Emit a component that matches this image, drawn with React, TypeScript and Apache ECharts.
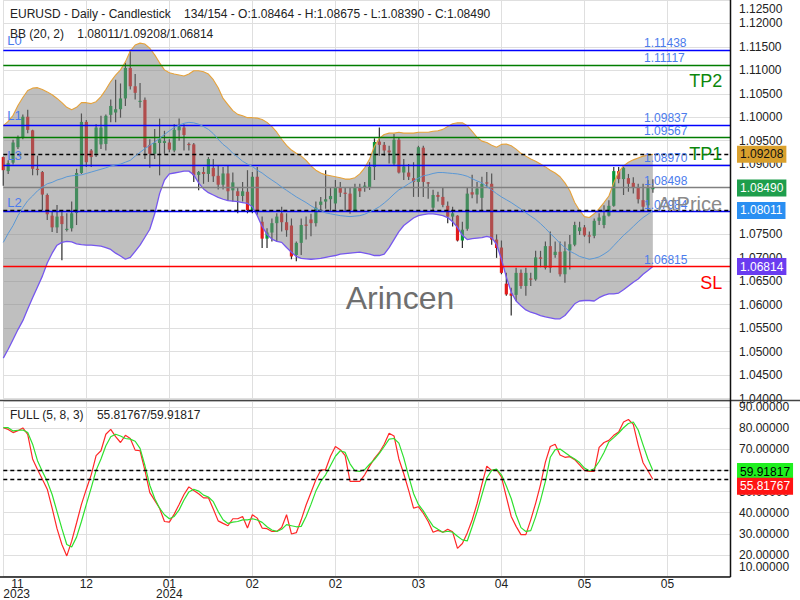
import React, { useEffect, useRef } from 'react';
import * as echarts from 'echarts';

// ---------- DATA ----------
const opens = [
  1.0915, 1.0885, 1.0903, 1.0936, 1.0957, 1.1001, 1.0972, 1.0890, 1.0883, 1.0834,
  1.0790, 1.0765, 1.0789, 1.0760, 1.0763, 1.0796, 1.0881, 1.0990, 1.0929, 1.0922,
  1.0942, 1.0943, 1.1005, 1.1010, 1.1017, 1.1040, 1.1105, 1.1066, 1.1034, 1.1037,
  1.0941, 1.0922, 1.0945, 1.0945, 1.0946, 1.0929, 1.0972, 1.0978, 1.0943, 1.0942,
  1.0877, 1.0883, 1.0879, 1.0892, 1.0875, 1.0856, 1.0880, 1.0844, 1.0842, 1.0832,
  1.0841, 1.0802, 1.0873, 1.0777, 1.0741, 1.0754, 1.0774, 1.0795, 1.0776, 1.0769,
  1.0706, 1.0732, 1.0771, 1.0782, 1.0774, 1.0813, 1.0820, 1.0825, 1.0816, 1.0849,
  1.0839, 1.0837, 1.0802, 1.0851, 1.0853, 1.0851, 1.0894, 1.0948, 1.0941, 1.0929,
  1.0901, 1.0952, 1.0882, 1.0882, 1.0870, 1.0862, 1.0935, 1.0861, 1.0807, 1.0834,
  1.0830, 1.0811, 1.0788, 1.0790, 1.0737, 1.0762, 1.0840, 1.0835, 1.0828, 1.0861,
  1.0858, 1.0739, 1.0722, 1.0645, 1.0624, 1.0621, 1.0668, 1.0640, 1.0656, 1.0654,
  1.0701, 1.0679, 1.0725, 1.0706, 1.0713, 1.0665, 1.0716, 1.0728, 1.0757, 1.0765,
  1.0748, 1.0747, 1.0779, 1.0770, 1.0790, 1.0811, 1.0885, 1.0868, 1.0870, 1.0860,
  1.0851, 1.0823, 1.0812, 1.08464,
];
const closes = [
  1.0887, 1.0902, 1.0946, 1.0957, 1.1001, 1.0973, 1.0890, 1.0888, 1.0835, 1.0793,
  1.0765, 1.0788, 1.0772, 1.0762, 1.0795, 1.0881, 1.0990, 1.0904, 1.0915, 1.0978,
  1.0978, 1.1003, 1.1024, 1.1017, 1.1040, 1.1105, 1.1066, 1.1052, 1.1035, 1.0936,
  1.0922, 1.0945, 1.0953, 1.0949, 1.0931, 1.0973, 1.0980, 1.0962, 1.0941, 1.0876,
  1.0883, 1.0879, 1.0911, 1.0874, 1.0856, 1.0880, 1.0842, 1.0861, 1.0832, 1.0842,
  1.0802, 1.0873, 1.0802, 1.0741, 1.0754, 1.0774, 1.0788, 1.0776, 1.0759, 1.0703,
  1.0732, 1.0770, 1.0770, 1.0774, 1.0807, 1.0820, 1.0825, 1.0832, 1.0849, 1.0839,
  1.0838, 1.0802, 1.0851, 1.0842, 1.0854, 1.0894, 1.0947, 1.0941, 1.0929, 1.0925,
  1.0952, 1.0882, 1.0895, 1.0873, 1.0862, 1.0936, 1.0862, 1.0860, 1.0834, 1.0830,
  1.0813, 1.0788, 1.0795, 1.0737, 1.0760, 1.0837, 1.0835, 1.0848, 1.0858, 1.0859,
  1.0739, 1.0721, 1.0668, 1.0622, 1.0619, 1.0668, 1.0640, 1.0668, 1.0655, 1.0701,
  1.0698, 1.0725, 1.0679, 1.0713, 1.0665, 1.0714, 1.0729, 1.0770, 1.0765, 1.0748,
  1.0747, 1.0779, 1.0786, 1.0790, 1.0811, 1.0885, 1.0868, 1.0892, 1.0858, 1.0851,
  1.0825, 1.0809, 1.0849, 1.08490,
];
const lows = [
  1.0854, 1.0879, 1.0899, 1.0932, 1.0953, 1.0966, 1.0876, 1.0876, 1.0802, 1.0781,
  1.0755, 1.0753, 1.0695, 1.0756, 1.0756, 1.0770, 1.0879, 1.0894, 1.0894, 1.0915,
  1.0932, 1.0929, 1.0989, 1.0989, 1.0999, 1.1024, 1.1059, 1.1038, 1.1020, 1.0911,
  1.0892, 1.0911, 1.0876, 1.0922, 1.0925, 1.0925, 1.0950, 1.0929, 1.0929, 1.0862,
  1.0844, 1.0858, 1.0862, 1.0862, 1.0846, 1.0846, 1.0822, 1.0820, 1.0795, 1.0820,
  1.0795, 1.0795, 1.0792, 1.0721, 1.0721, 1.0735, 1.0735, 1.0756, 1.0745, 1.0697,
  1.0693, 1.0706, 1.0739, 1.0746, 1.0767, 1.0799, 1.0805, 1.0799, 1.0803, 1.0830,
  1.0799, 1.0794, 1.0799, 1.0830, 1.0841, 1.0845, 1.0866, 1.0918, 1.0918, 1.0901,
  1.0897, 1.0880, 1.0866, 1.0866, 1.0830, 1.0830, 1.0830, 1.0826, 1.0799, 1.0820,
  1.0808, 1.0774, 1.0767, 1.0735, 1.0721, 1.0758, 1.0827, 1.0816, 1.0798, 1.0849,
  1.0728, 1.0700, 1.0665, 1.0619, 1.0577, 1.0608, 1.0634, 1.0619, 1.0640, 1.0651,
  1.0680, 1.0675, 1.0668, 1.0700, 1.0660, 1.0647, 1.0675, 1.0725, 1.0749, 1.0745,
  1.0731, 1.0742, 1.0770, 1.0763, 1.0788, 1.0809, 1.0859, 1.0834, 1.0841, 1.0837,
  1.0816, 1.0802, 1.0802, 1.08390,
];
const highs = [
  1.0916, 1.0908, 1.0952, 1.0961, 1.1006, 1.1016, 1.0973, 1.0918, 1.0885, 1.0837,
  1.0799, 1.0813, 1.0799, 1.0795, 1.0820, 1.0890, 1.1008, 1.0994, 1.0932, 1.0985,
  1.1003, 1.1006, 1.1038, 1.1080, 1.1072, 1.1116, 1.1144, 1.1092, 1.1073, 1.1042,
  1.0953, 1.0975, 1.0997, 1.0971, 1.0953, 1.0985, 1.0997, 1.0985, 1.0946, 1.0945,
  1.0885, 1.0894, 1.0915, 1.0911, 1.0897, 1.0894, 1.0897, 1.0882, 1.0849, 1.0862,
  1.0887, 1.0883, 1.0894, 1.0788, 1.0763, 1.0784, 1.0795, 1.0809, 1.0795, 1.0784,
  1.0735, 1.0784, 1.0788, 1.0794, 1.0820, 1.0830, 1.0887, 1.0851, 1.0866, 1.0862,
  1.0851, 1.0851, 1.0858, 1.0858, 1.0862, 1.0904, 1.0955, 1.0978, 1.0947, 1.0939,
  1.0964, 1.0957, 1.0911, 1.0900, 1.0904, 1.0939, 1.0939, 1.0862, 1.0845, 1.0841,
  1.0851, 1.0820, 1.0809, 1.0791, 1.0777, 1.0851, 1.0877, 1.0862, 1.0873, 1.0883,
  1.0880, 1.0750, 1.0737, 1.0668, 1.0636, 1.0679, 1.0675, 1.0679, 1.0668, 1.0715,
  1.0715, 1.0735, 1.0756, 1.0735, 1.0735, 1.0735, 1.0749, 1.0777, 1.0777, 1.0770,
  1.0756, 1.0784, 1.0795, 1.0812, 1.0823, 1.0894, 1.0894, 1.0894, 1.0879, 1.0872,
  1.0858, 1.0858, 1.0866, 1.08675,
];
const bbUpper = [
  1.0982, 1.0991, 1.1004, 1.1025, 1.1042, 1.1057, 1.1062, 1.1063, 1.1059, 1.1054,
  1.1048, 1.1040, 1.1031, 1.1021, 1.1016, 1.1021, 1.1031, 1.1031, 1.1029, 1.1033,
  1.1044, 1.1059, 1.1076, 1.1090, 1.1101, 1.1118, 1.1141, 1.1154, 1.1158, 1.1156,
  1.1147, 1.1133, 1.1116, 1.1101, 1.1095, 1.1092, 1.1090, 1.1088, 1.1092, 1.1099,
  1.1099, 1.1097, 1.1092, 1.1080, 1.1063, 1.1040, 1.1027, 1.1014, 1.1006, 1.1003,
  1.0999, 1.0999, 1.0998, 1.0995, 1.0989, 1.0980, 1.0968, 1.0953, 1.0940, 1.0930,
  1.0923, 1.0917, 1.0908, 1.0896, 1.0887, 1.0881, 1.0877, 1.0875, 1.0873, 1.0871,
  1.0868, 1.0868, 1.0871, 1.0879, 1.0892, 1.0911, 1.0938, 1.0955, 1.0963, 1.0966,
  1.0966, 1.0968, 1.0966, 1.0966, 1.0966, 1.0968, 1.0968, 1.0968, 1.0970, 1.0971,
  1.0974, 1.0980, 1.0986, 1.0988, 1.0988, 1.0982, 1.0970, 1.0957, 1.0949, 1.0946,
  1.0940, 1.0936, 1.0942, 1.0943, 1.0939, 1.0932, 1.0923, 1.0917, 1.0911, 1.0906,
  1.0900, 1.0894, 1.0887, 1.0881, 1.0873, 1.0860, 1.0843, 1.0818, 1.0801, 1.0788,
  1.0786, 1.0794, 1.0805, 1.0818, 1.0832, 1.0860, 1.0883, 1.0896, 1.0904, 1.0909,
  1.0913, 1.0917, 1.0919, 1.09208,
];
const bbMiddle = [
  1.0733, 1.0752, 1.0769, 1.0790, 1.0807, 1.0822, 1.0832, 1.0843, 1.0851, 1.0858,
  1.0861, 1.0866, 1.0869, 1.0873, 1.0875, 1.0876, 1.0877, 1.0880, 1.0883, 1.0886,
  1.0889, 1.0892, 1.0896, 1.0898, 1.0900, 1.0904, 1.0908, 1.0917, 1.0925, 1.0933,
  1.0940, 1.0947, 1.0955, 1.0963, 1.0971, 1.0978, 1.0983, 1.0987, 1.0989, 1.0988,
  1.0985, 1.0980, 1.0974, 1.0965, 1.0953, 1.0942, 1.0934, 1.0923, 1.0915, 1.0906,
  1.0900, 1.0895, 1.0887, 1.0881, 1.0873, 1.0866, 1.0859, 1.0851, 1.0844, 1.0837,
  1.0830, 1.0824, 1.0818, 1.0811, 1.0805, 1.0801, 1.0796, 1.0794, 1.0792, 1.0790,
  1.0789, 1.0788, 1.0789, 1.0790, 1.0793, 1.0798, 1.0803, 1.0809, 1.0817, 1.0826,
  1.0836, 1.0845, 1.0851, 1.0858, 1.0864, 1.0870, 1.0875, 1.0877, 1.0880, 1.0882,
  1.0882, 1.0881, 1.0880, 1.0879, 1.0877, 1.0874, 1.0869, 1.0864, 1.0860, 1.0852,
  1.0845, 1.0837, 1.0830, 1.0824, 1.0818, 1.0811, 1.0804, 1.0796, 1.0789, 1.0782,
  1.0773, 1.0763, 1.0752, 1.0742, 1.0731, 1.0722, 1.0714, 1.0709, 1.0703, 1.0700,
  1.0697, 1.0699, 1.0702, 1.0708, 1.0715, 1.0726, 1.0737, 1.0748, 1.0757, 1.0767,
  1.0777, 1.0786, 1.0793, 1.08011,
];
const bbLower = [
  1.0486, 1.0505, 1.0526, 1.0547, 1.0566, 1.0591, 1.0615, 1.0638, 1.0661, 1.0689,
  1.0710, 1.0727, 1.0733, 1.0735, 1.0734, 1.0730, 1.0728, 1.0727, 1.0727, 1.0726,
  1.0725, 1.0722, 1.0718, 1.0710, 1.0704, 1.0697, 1.0701, 1.0714, 1.0727, 1.0744,
  1.0761, 1.0794, 1.0837, 1.0866, 1.0879, 1.0881, 1.0883, 1.0885, 1.0885, 1.0877,
  1.0860, 1.0847, 1.0839, 1.0834, 1.0829, 1.0825, 1.0822, 1.0821, 1.0820, 1.0818,
  1.0816, 1.0809, 1.0790, 1.0767, 1.0750, 1.0740, 1.0735, 1.0733, 1.0722, 1.0712,
  1.0703, 1.0699, 1.0698, 1.0697, 1.0698, 1.0699, 1.0701, 1.0703, 1.0705, 1.0708,
  1.0709, 1.0710, 1.0711, 1.0712, 1.0710, 1.0708, 1.0705, 1.0705, 1.0708, 1.0722,
  1.0739, 1.0756, 1.0769, 1.0777, 1.0785, 1.0790, 1.0792, 1.0794, 1.0794, 1.0792,
  1.0790, 1.0786, 1.0777, 1.0765, 1.0748, 1.0739, 1.0741, 1.0742, 1.0743, 1.0746,
  1.0743, 1.0729, 1.0697, 1.0659, 1.0627, 1.0608, 1.0598, 1.0589, 1.0584, 1.0581,
  1.0577, 1.0574, 1.0572, 1.0570, 1.0570, 1.0577, 1.0589, 1.0602, 1.0608, 1.0609,
  1.0609, 1.0608, 1.0615, 1.0620, 1.0623, 1.0623, 1.0625, 1.0632, 1.0640, 1.0648,
  1.0655, 1.0665, 1.0673, 1.06814,
];
const stochK = [
  80.2, 79.4, 77.9, 78.8, 80.1, 77.1, 65.4, 60.4, 55.8, 51.1,
  42.1, 32.4, 24.9, 19.5, 26.5, 35.1, 43.9, 51.1, 57.9, 67.0,
  69.3, 77.1, 79.4, 76.0, 73.2, 76.6, 75.1, 69.6, 69.3, 60.0,
  49.5, 45.8, 42.1, 35.8, 35.5, 39.3, 43.9, 48.6, 52.2, 50.5,
  48.9, 47.0, 47.0, 41.7, 36.1, 34.9, 33.8, 37.1, 37.1, 38.2,
  32.7, 39.0, 37.4, 32.7, 32.4, 31.1, 31.1, 33.0, 39.0, 29.9,
  30.5, 36.6, 43.6, 49.5, 55.6, 60.1, 60.4, 66.7, 71.3, 69.8,
  67.0, 54.8, 54.8, 54.8, 57.9, 62.0, 65.7, 68.5, 72.4, 77.6,
  76.3, 65.4, 58.4, 50.5, 42.1, 42.8, 39.7, 35.8, 30.7, 31.6,
  30.7, 32.1, 30.9, 23.1, 25.4, 30.4, 36.5, 44.2, 53.4, 62.0,
  60.0, 60.3, 56.9, 47.5, 38.2, 33.5, 29.6, 29.6, 36.6, 44.4,
  53.3, 63.9, 71.3, 72.4, 67.3, 66.2, 66.5, 65.1, 62.6, 60.0,
  59.5, 59.5, 70.9, 73.2, 74.2, 76.6, 78.2, 82.9, 84.1, 81.8,
  72.0, 63.6, 59.8, 55.81767,
];
const stochD = [
  80.2, 80.2, 78.7, 79.0, 79.1, 77.9, 72.4, 64.6, 59.5, 54.8,
  48.6, 40.5, 32.4, 24.9, 23.7, 28.4, 35.8, 43.9, 51.7, 60.0,
  65.4, 71.7, 75.9, 77.1, 76.3, 75.1, 74.8, 73.8, 70.4, 62.3,
  53.0, 46.7, 42.1, 39.0, 37.1, 38.2, 41.3, 46.0, 49.8, 51.1,
  50.2, 48.3, 47.4, 45.2, 40.5, 36.6, 34.9, 35.5, 35.8, 36.6,
  36.6, 37.1, 36.5, 35.4, 33.3, 31.8, 31.1, 32.1, 34.3, 33.8,
  33.3, 33.5, 38.2, 43.9, 50.2, 54.8, 57.9, 62.3, 66.7, 69.3,
  68.5, 63.1, 59.8, 59.5, 60.4, 62.9, 65.1, 68.1, 71.3, 74.8,
  75.1, 72.9, 65.9, 57.3, 49.1, 43.9, 40.8, 37.1, 33.6, 32.1,
  30.7, 31.2, 30.7, 28.8, 27.1, 26.6, 33.3, 40.4, 48.4, 56.4,
  60.0, 60.6, 57.9, 52.6, 46.7, 38.9, 32.9, 31.1, 31.5, 38.0,
  45.8, 54.8, 66.2, 69.8, 70.1, 68.5, 66.8, 65.4, 63.7, 61.1,
  59.8, 60.8, 64.2, 68.5, 73.5, 75.5, 77.7, 80.2, 82.2, 82.9,
  79.1, 72.1, 65.4, 59.91817,
];
const levelValues = [1.11438, 1.11117, 1.09837, 1.09567, 1.0897, 1.08498, 1.07984, 1.06815];
const levelNames = ['L0', 'TP2', 'L1', 'TP1', 'L3', 'AtPrice', 'L2', 'SL'];
const bbLast = [1.08011, 1.09208, 1.06814]; // middle / upper / lower
const lastClose = 1.0849;
const stochLast = [55.81767, 59.91817]; // %K / %D
const xTickLabels = ['11\n2023', '12', '01\n2024', '02', '02', '03', '04', '05', '05'];
const X_STEP = 17;
const X_MAX = 148.8;

const FONT = "'Liberation Sans', Arial, Helvetica, sans-serif";

export default function App() {
  const ref = useRef<HTMLDivElement>(null);
  useEffect(() => {
    document.body.style.margin = '0';
    const chart = echarts.init(ref.current!, null, { renderer: 'svg' });

    const candleData = opens.map((o, i) => [i, o, closes[i], lows[i], highs[i]]);
    const pairs = (arr: number[]) => arr.map((v, i) => [i, v]);
    const bandData = bbUpper.map((u, i) => [i, u, bbLower[i]]);

    const levelColor = (n: string) =>
      n === 'SL' ? '#ff0000' : n === 'AtPrice' ? '#808080' : n.startsWith('TP') ? '#007d00' : '#0000ff';
    const bigColor = (n: string) =>
      n === 'SL' ? '#ff0000' : n === 'AtPrice' ? '#8a8a8a' : '#0c870c';

    const tag = (v: number, bg: string, fg: string, dashed: boolean, dy = 0) => ({
      yAxis: v,
      lineStyle: dashed
        ? { color: '#000', width: 1.4, type: [4, 3], opacity: 1 }
        : { color: 'rgba(0,0,0,0)', width: 1, type: 'solid', opacity: 1 },
      label: {
        show: true,
        position: 'end',
        distance: 7,
        offset: [0, dy],
        formatter: v.toFixed(5),
        backgroundColor: bg,
        color: fg,
        padding: [3, 3, 2, 3],
        fontSize: 12,
        fontFamily: FONT,
      },
    });

    const mainMarkLines = [
      ...levelValues.map((v, k) => ({
        yAxis: v,
        lineStyle: { color: levelColor(levelNames[k]), width: 1.3, type: 'solid' },
        label: { show: false },
      })),
      tag(bbLast[1], '#d9a02d', '#111', true),
      tag(bbLast[0], '#2a8ff2', '#fff', true),
      tag(lastClose, '#1e9e4c', '#fff', false),
      tag(bbLast[2], '#6a3cf0', '#fff', false),
    ];

    const mainMarkPoints = [
      ...levelValues.map((v) => ({
        coord: [131.2, v],
        label: {
          show: true,
          position: [0, -1],
          align: 'left',
          verticalAlign: 'bottom',
          formatter: v.toFixed(5),
          color: '#4b7bec',
          fontSize: 12,
          fontFamily: FONT,
        },
      })),
      ...levelNames.map((n, k) =>
        n.startsWith('L')
          ? {
              coord: [0.8, levelValues[k]],
              label: {
                show: true,
                position: [0, -3],
                align: 'left',
                verticalAlign: 'bottom',
                formatter: n,
                color: '#4b7bec',
                fontSize: 13,
                fontFamily: FONT,
              },
            }
          : {
              coord: [147.2, levelValues[k]],
              label: {
                show: true,
                position: [0, 16],
                align: 'right',
                verticalAlign: 'middle',
                formatter: n,
                color: bigColor(n),
                fontSize: n === 'AtPrice' ? 20 : 18,
                fontFamily: FONT,
              },
            }
      ),
    ];

    const gridLine = { show: true, lineStyle: { color: '#dfdfdf', width: 1 } };

    const option: any = {
      animation: false,
      backgroundColor: '#ffffff',
      textStyle: { fontFamily: FONT },
      grid: [
        { left: 3.3, right: 70, top: -3.5, height: 402 },
        { left: 3.3, right: 70, top: 401, height: 175.8 },
      ],
      xAxis: [
        {
          type: 'value', gridIndex: 0, min: 0, max: X_MAX, interval: X_STEP,
          axisLine: { show: false }, axisTick: { show: false }, axisLabel: { show: false },
          splitLine: gridLine,
        },
        {
          type: 'value', gridIndex: 1, min: 0, max: X_MAX, interval: X_STEP,
          axisLine: { show: false }, axisTick: { show: false },
          axisLabel: {
            show: true,
            color: '#222',
            fontSize: 12,
            fontFamily: FONT,
            margin: 3,
            lineHeight: 10,
            alignMinLabel: 'left',
            showMaxLabel: false,
            formatter: (v: number) => {
              const k = Math.round(v / X_STEP);
              const s = xTickLabels[k];
              if (s === undefined || Math.abs(v - k * X_STEP) > 0.01) return '';
              if (k === 0) return '{m|11}\n{y|2023}';
              return s;
            },
            rich: {
              m: { padding: [0, 0, 0, 8], fontSize: 12, lineHeight: 10, color: '#222', fontFamily: FONT },
              y: { fontSize: 12, lineHeight: 10, color: '#222', fontFamily: FONT },
            },
          },
          splitLine: gridLine,
        },
      ],
      yAxis: [
        {
          type: 'value', gridIndex: 0, position: 'right', min: 1.04, max: 1.125, interval: 0.005,
          axisLine: { show: false }, axisTick: { show: false },
          axisLabel: {
            color: '#222', fontSize: 12, fontFamily: FONT, margin: 9,
            formatter: (v: number) => (Math.abs(v - 1.125) < 1e-7 ? '{t|1.12500}' : v.toFixed(5)),
            rich: { t: { padding: [17, 0, 0, 0], fontSize: 12, color: '#222', fontFamily: FONT } },
          },
          splitLine: gridLine,
        },
        {
          type: 'value', gridIndex: 1, position: 'right', min: 10, max: 92.85, interval: 10,
          axisLine: { show: false }, axisTick: { show: false },
          axisLabel: {
            color: '#222', fontSize: 12, fontFamily: FONT, margin: 9, showMaxLabel: false,
            formatter: (v: number) => (Math.abs(v - 10) < 1e-7 ? '{b|10.00000}' : v.toFixed(5)),
            rich: { b: { padding: [0, 0, 18, 0], fontSize: 12, color: '#222', fontFamily: FONT } },
          },
          splitLine: gridLine,
        },
      ],
      series: [
        {
          name: 'EURUSD',
          type: 'custom',
          xAxisIndex: 0,
          yAxisIndex: 0,
          z: 2,
          clip: false,
          dimensions: ['i', 'open', 'close', 'low', 'high'],
          encode: { x: 0, y: [1, 2, 3, 4] },
          data: candleData,
          renderItem: (params: any, api: any) => {
            const x = api.value(0);
            const o = api.value(1);
            const c = api.value(2);
            const l = api.value(3);
            const h = api.value(4);
            const top = api.coord([x, Math.max(o, c)]);
            const bot = api.coord([x, Math.min(o, c)]);
            const hi = api.coord([x, h]);
            const lo = api.coord([x, l]);
            const w = 3.2;
            const up = c >= o;
            return {
              type: 'group',
              children: [
                {
                  type: 'line',
                  shape: { x1: hi[0], y1: hi[1], x2: lo[0], y2: lo[1] },
                  style: { stroke: '#2a2a2a', lineWidth: 1.2 },
                },
                {
                  type: 'rect',
                  shape: { x: top[0] - w / 2, y: top[1], width: w, height: Math.max(bot[1] - top[1], 1.2) },
                  style: { fill: up ? '#07993a' : '#e21a1a' },
                },
              ],
            };
          },
        },
        {
          name: 'BB band',
          type: 'custom',
          xAxisIndex: 0,
          yAxisIndex: 0,
          z: 3,
          silent: true,
          dimensions: ['i', 'upper', 'lower'],
          encode: { x: 0, y: [1, 2] },
          data: bandData,
          renderItem: (params: any, api: any) => {
            if (params.dataIndex !== 0) return null;
            const pts: number[][] = [];
            for (let i = 0; i < bandData.length; i++) pts.push(api.coord([bandData[i][0], bandData[i][1]]));
            for (let i = bandData.length - 1; i >= 0; i--) pts.push(api.coord([bandData[i][0], bandData[i][2]]));
            return {
              type: 'polygon',
              shape: { points: pts },
              style: { fill: 'rgba(128,128,128,0.5)' },
            };
          },
        },
        {
          name: 'BB upper', type: 'line', xAxisIndex: 0, yAxisIndex: 0, z: 4, silent: true,
          symbol: 'none', data: pairs(bbUpper),
          lineStyle: { color: '#e6a23a', width: 1.1 },
        },
        {
          name: 'BB lower', type: 'line', xAxisIndex: 0, yAxisIndex: 0, z: 4, silent: true,
          symbol: 'none', data: pairs(bbLower),
          lineStyle: { color: '#7657ee', width: 1.3 },
        },
        {
          name: 'BB middle', type: 'line', xAxisIndex: 0, yAxisIndex: 0, z: 5, silent: true,
          symbol: 'none', data: pairs(bbMiddle),
          lineStyle: { color: '#5a98d6', width: 1 },
          markLine: { silent: true, symbol: ['none', 'none'], precision: 5, data: mainMarkLines },
          markPoint: { silent: true, symbol: 'circle', symbolSize: 0, data: mainMarkPoints },
        },
        {
          name: '%K', type: 'line', xAxisIndex: 1, yAxisIndex: 1, z: 4, silent: true,
          symbol: 'none', data: pairs(stochK),
          lineStyle: { color: '#ff2828', width: 1.2 },
          markLine: {
            silent: true, symbol: ['none', 'none'], precision: 5,
            data: [
              tag(stochLast[1], '#1ff01f', '#000', true, 1),
              tag(stochLast[0], '#ff1414', '#fff', true, 7),
            ],
          },
        },
        {
          name: '%D', type: 'line', xAxisIndex: 1, yAxisIndex: 1, z: 4, silent: true,
          symbol: 'none', data: pairs(stochD),
          lineStyle: { color: '#2fe02f', width: 1.2 },
        },
      ],
      graphic: [
        { type: 'line', z: 50, shape: { x1: 0, y1: 400.5, x2: 800, y2: 400.5 }, style: { stroke: '#444', lineWidth: 1.3 } },
        { type: 'line', z: 50, shape: { x1: 730.5, y1: 0, x2: 730.5, y2: 577 }, style: { stroke: '#111', lineWidth: 1.5 } },
        { type: 'line', z: 50, shape: { x1: 0, y1: 577, x2: 730.5, y2: 577 }, style: { stroke: '#111', lineWidth: 1.5 } },
        {
          type: 'text', z: 50, x: 10, y: 14,
          style: {
            text: 'EURUSD - Daily - Candlestick    134/154 - O:1.08464 - H:1.08675 - L:1.08390 - C:1.08490',
            fill: '#222', fontSize: 12, fontFamily: FONT, verticalAlign: 'middle', align: 'left',
          },
        },
        {
          type: 'text', z: 50, x: 10, y: 34,
          style: {
            text: 'BB (20, 2)    1.08011/1.09208/1.06814',
            fill: '#222', fontSize: 12, fontFamily: FONT, verticalAlign: 'middle', align: 'left',
          },
        },
        {
          type: 'text', z: 50, x: 10, y: 415,
          style: {
            text: 'FULL (5, 8, 3)    55.81767/59.91817',
            fill: '#222', fontSize: 12, fontFamily: FONT, verticalAlign: 'middle', align: 'left',
          },
        },
        {
          type: 'text', z: 50, x: 400, y: 298,
          style: {
            text: 'Arincen', fill: '#6e6e6e', fontSize: 32, fontFamily: FONT,
            verticalAlign: 'middle', align: 'center',
          },
        },
      ],
    };

    chart.setOption(option);
    return () => chart.dispose();
  }, []);
  return <div ref={ref} style={{ width: 800, height: 600 }} />;
}
